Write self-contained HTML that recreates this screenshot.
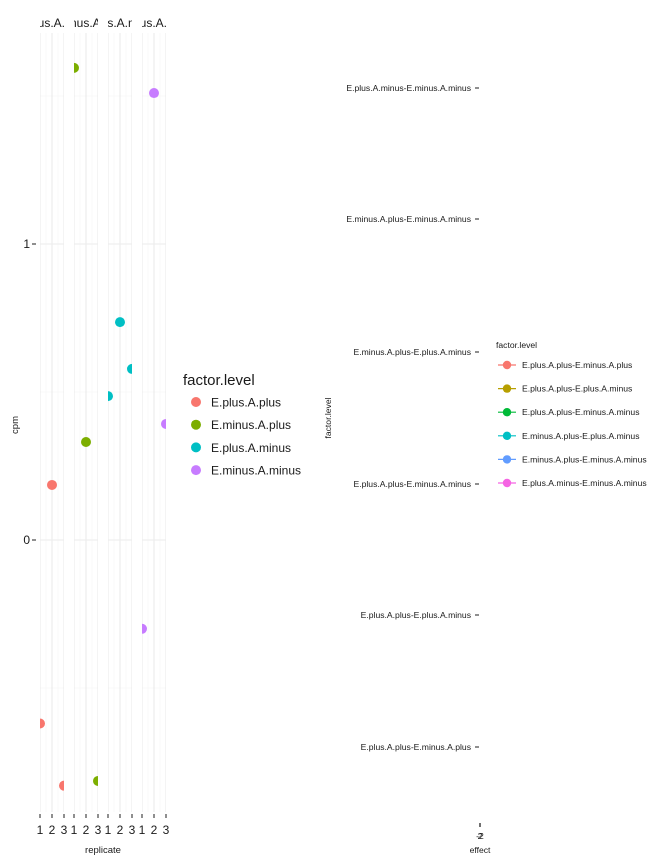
<!DOCTYPE html>
<html><head><meta charset="utf-8"><style>
body{margin:0;background:#fff;}
svg{display:block;font-family:"Liberation Sans",Arial,sans-serif;}
</style></head><body>
<svg id="chart" width="663" height="864" viewBox="0 0 663 864"></svg>
<script>
const facets = ["E.plus.A.plus","E.minus.A.plus","E.plus.A.minus","E.minus.A.minus"];
const colors = ["#F8766D","#7CAE00","#00BFC4","#C77CFF"];
const replicates = [1,2,3];
const cpmValues = [
  [-0.62, 0.186, -0.83],
  [1.595, 0.331, -0.814],
  [0.486, 0.736, 0.578],
  [-0.30, 1.51, 0.392]
];
const yTicks = [0, 1];
const contrasts = ["E.plus.A.plus-E.minus.A.plus","E.plus.A.plus-E.plus.A.minus","E.plus.A.plus-E.minus.A.minus","E.minus.A.plus-E.plus.A.minus","E.minus.A.plus-E.minus.A.minus","E.plus.A.minus-E.minus.A.minus"];
const contrastColors = ["#F8766D","#B79F00","#00BA38","#00BFC4","#619CFF","#F564E3"];

const NS="http://www.w3.org/2000/svg";
const svg=document.getElementById('chart');
function mk(tag,attrs,parent){const e=document.createElementNS(NS,tag);for(const k in attrs)e.setAttribute(k,attrs[k]);(parent||svg).appendChild(e);return e;}

const panelX=[40,74,108,142], panelW=24, panelTop=33, panelBottom=812;
const yScale=v=>540-296*v;
const xScale=(p,r)=>panelX[p]+(r-1)/2*panelW;

const defs=mk('defs',{});
facets.forEach((f,p)=>{
  const cp=mk('clipPath',{id:'cp'+p},defs);
  mk('rect',{x:panelX[p],y:0,width:panelW,height:panelBottom},cp);
});

facets.forEach((f,p)=>{
  const g=mk('g',{'clip-path':'url(#cp'+p+')'});
  
  
  [-0.5,0.5,1.5].forEach(v=>mk('line',{x1:panelX[p],x2:panelX[p]+panelW,y1:yScale(v),y2:yScale(v),stroke:'#f3f3f3','stroke-width':0.6},g));
  yTicks.forEach(v=>mk('line',{x1:panelX[p],x2:panelX[p]+panelW,y1:yScale(v),y2:yScale(v),stroke:'#ebebeb','stroke-width':1.1},g));
  [1.5,2.5].forEach(r=>mk('line',{x1:xScale(p,r),x2:xScale(p,r),y1:panelTop,y2:panelBottom,stroke:'#f3f3f3','stroke-width':0.6},g));
  replicates.forEach(r=>mk('line',{x1:xScale(p,r),x2:xScale(p,r),y1:panelTop,y2:panelBottom,stroke:'#ebebeb','stroke-width':1.1},g));
  const st=mk('text',{x:panelX[p]+panelW/2,y:27,'text-anchor':'middle','font-size':12,fill:'#1a1a1a'},g);
  st.textContent=f;
  
  
  replicates.forEach((r,i)=>{
    const c=mk('circle',{cx:xScale(p,r),cy:yScale(cpmValues[p][i]),r:5,fill:colors[p]},g);
    
    
  });
  replicates.forEach(r=>{
    mk('line',{x1:xScale(p,r),x2:xScale(p,r),y1:814,y2:818,stroke:'#333','stroke-width':1.1});
    const t=mk('text',{x:xScale(p,r),y:834,'text-anchor':'middle','font-size':12,fill:'#1a1a1a'});
    t.textContent=r;
    
    
  });
});
yTicks.forEach(v=>{
  mk('line',{x1:32,x2:36,y1:yScale(v),y2:yScale(v),stroke:'#333','stroke-width':1.1});
  const t=mk('text',{x:30,y:yScale(v)+4,'text-anchor':'end','font-size':12,fill:'#1a1a1a'});
  t.textContent=v;
  
  
});
let t=mk('text',{x:103,y:853,'text-anchor':'middle','font-size':9.5,fill:'#1a1a1a'});t.textContent='replicate';

t=mk('text',{x:0,y:0,transform:'translate(18,425) rotate(-90)','text-anchor':'middle','font-size':9.5,fill:'#1a1a1a'});t.textContent='cpm';


t=mk('text',{x:183,y:385,'font-size':15,fill:'#1a1a1a'});t.textContent='factor.level';

facets.forEach((f,i)=>{
  const y=402+i*22.7;
  const g=mk('g',{});
  
  
  mk('circle',{cx:196,cy:y,r:5,fill:colors[i]},g);
  const tt=mk('text',{x:211,y:y+4.5,'font-size':12,fill:'#1a1a1a'},g);tt.textContent=f;
});

const rY=[747,615,484,352,219,88];
contrasts.forEach((c,i)=>{
  mk('line',{x1:475,x2:479,y1:rY[i],y2:rY[i],stroke:'#333','stroke-width':1.1});
  const tt=mk('text',{x:471,y:rY[i]+3,'text-anchor':'end','font-size':8.6,fill:'#1a1a1a'});
  tt.textContent=c;
  
  
});
mk('line',{x1:480,x2:480,y1:823,y2:827,stroke:'#333','stroke-width':1.4});
t=mk('text',{x:480,y:839,'text-anchor':'middle','font-size':8.6,fill:'#1a1a1a'});t.textContent='-2';
t=mk('text',{x:480,y:839,'text-anchor':'middle','font-size':8.6,fill:'#1a1a1a'});t.textContent='2';
t=mk('text',{x:480,y:853,'text-anchor':'middle','font-size':8.6,fill:'#1a1a1a'});t.textContent='effect';

t=mk('text',{x:0,y:0,transform:'translate(331,418) rotate(-90)','text-anchor':'middle','font-size':8.6,fill:'#1a1a1a'});t.textContent='factor.level';


t=mk('text',{x:496,y:348,'font-size':8.6,fill:'#1a1a1a'});t.textContent='factor.level';

contrasts.forEach((c,i)=>{
  const y=365+i*23.6;
  const g=mk('g',{});
  
  
  mk('line',{x1:498,x2:516,y1:y,y2:y,stroke:contrastColors[i],'stroke-width':1.2},g);
  mk('circle',{cx:507,cy:y,r:4.2,fill:contrastColors[i]},g);
  const tt=mk('text',{x:522,y:y+3,'font-size':8.6,fill:'#1a1a1a'},g);tt.textContent=c;
});
</script>
</body></html>
